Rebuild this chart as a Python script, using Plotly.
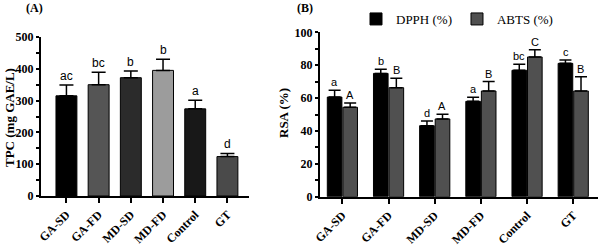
import plotly.graph_objects as go

categories = ["GA-SD", "GA-FD", "MD-SD", "MD-FD", "Control", "GT"]

tpc = [315, 350, 372, 395, 274, 124]
tpc_err = [34, 39, 21, 35, 27, 10]
tpc_letters = ["ac", "bc", "b", "b", "a", "d"]
tpc_colors = ["#000000", "#555555", "#2b2b2b", "#9c9c9c", "#181818", "#4a4a4a"]

dpph = [60.6, 75.0, 43.2, 58.0, 76.9, 81.1]
dpph_err = [4.1, 2.5, 2.8, 2.5, 3.6, 2.1]
dpph_letters = ["a", "b", "d", "a", "bc", "c"]

abts = [54.4, 66.3, 47.3, 64.3, 85.0, 64.3]
abts_err = [2.6, 5.7, 2.8, 5.7, 4.4, 8.7]
abts_letters = ["A", "B", "A", "B", "C", "B"]

SERIF = "Liberation Serif, Times New Roman, serif"
SANS = "Liberation Sans, Arial, sans-serif"

fig = go.Figure()

fig.add_trace(go.Bar(
    x=categories, y=tpc, xaxis="x", yaxis="y", width=0.65,
    marker=dict(color=tpc_colors, line=dict(color="black", width=1)),
    error_y=dict(type="data", symmetric=False, array=tpc_err,
                 arrayminus=[0] * len(tpc), color="black", thickness=1.5, width=7),
    showlegend=False,
))
fig.add_trace(go.Bar(
    x=categories, y=dpph, xaxis="x2", yaxis="y2", name="DPPH (%)",
    marker=dict(color="#000000", line=dict(color="black", width=1)),
    error_y=dict(type="data", symmetric=False, array=dpph_err,
                 arrayminus=[0] * len(dpph), color="black", thickness=1.5, width=6),
))
fig.add_trace(go.Bar(
    x=categories, y=abts, xaxis="x2", yaxis="y2", name="ABTS (%)",
    marker=dict(color="#505050", line=dict(color="black", width=1)),
    error_y=dict(type="data", symmetric=False, array=abts_err,
                 arrayminus=[0] * len(abts), color="black", thickness=1.5, width=6),
))

annotations = []
for c, v, e, t in zip(categories, tpc, tpc_err, tpc_letters):
    annotations.append(dict(x=c, y=v + e, xref="x", yref="y", text=t, showarrow=False,
                            xanchor="center", yanchor="bottom",
                            font=dict(family=SANS, size=12, color="black")))
for c, v, e, t in zip(categories, dpph, dpph_err, dpph_letters):
    annotations.append(dict(x=c, y=v + e, xref="x2", yref="y2", text=t, showarrow=False,
                            xanchor="center", yanchor="bottom", xshift=-7.7,
                            font=dict(family=SANS, size=11, color="black")))
for c, v, e, t in zip(categories, abts, abts_err, abts_letters):
    annotations.append(dict(x=c, y=v + e, xref="x2", yref="y2", text=t, showarrow=False,
                            xanchor="center", yanchor="bottom", xshift=7.7,
                            font=dict(family=SANS, size=11, color="black")))

annotations.append(dict(x=34 / 600, y=1 - 8 / 247, xref="paper", yref="paper", text="<b>(A)</b>",
                        xanchor="center", yanchor="middle", showarrow=False,
                        font=dict(family=SERIF, size=12, color="black")))
annotations.append(dict(x=305 / 600, y=1 - 8 / 247, xref="paper", yref="paper", text="<b>(B)</b>",
                        xanchor="center", yanchor="middle", showarrow=False,
                        font=dict(family=SERIF, size=12, color="black")))
annotations.append(dict(x=9 / 600, y=1 - 118 / 247, xref="paper", yref="paper", text="<b>TPC (mg GAE/L)</b>",
                        xanchor="center", yanchor="middle", textangle=-90, showarrow=False,
                        font=dict(family=SERIF, size=13, color="black")))
annotations.append(dict(x=283 / 600, y=1 - 113 / 247, xref="paper", yref="paper", text="<b>RSA (%)</b>",
                        xanchor="center", yanchor="middle", textangle=-90, showarrow=False,
                        font=dict(family=SERIF, size=13, color="black")))

axis_common = dict(showline=True, linecolor="black", linewidth=2, ticks="outside",
                   tickcolor="black", tickwidth=1.5, showgrid=False, zeroline=False,
                   automargin=False)

fig.update_layout(
    width=600, height=247,
    margin=dict(l=0, r=0, t=0, b=0, autoexpand=False),
    paper_bgcolor="white", plot_bgcolor="white",
    barmode="group", bargap=0.326, bargroupgap=0.06,
    annotations=annotations,
    legend=dict(orientation="h", x=356 / 600, y=1 - 4 / 247, xanchor="left", yanchor="top",
                font=dict(family=SERIF, size=13, color="black"), bgcolor="rgba(0,0,0,0)",
                tracegroupgap=0, itemwidth=30),
    xaxis=dict(domain=[41 / 600, 249 / 600], type="category", range=[-0.79, 5.67],
               anchor="y", tickangle=-45, ticklen=5,
               tickfont=dict(family=SERIF, size=12, color="black", weight="bold"), **axis_common),
    yaxis=dict(domain=[(247 - 196) / 247, (247 - 37) / 247], range=[0, 500], anchor="x",
               tickvals=[0, 100, 200, 300, 400, 500], ticklen=3,
               minor=dict(dtick=50, ticks="outside", ticklen=3, tickcolor="black", tickwidth=1.5),
               tickfont=dict(family=SERIF, size=12, color="black", weight="bold"),
               **axis_common),
    xaxis2=dict(domain=[320 / 600, 597.7 / 600], type="category", range=[-0.485, 5.53],
                anchor="y2", tickangle=-45, ticklen=5,
                tickfont=dict(family=SERIF, size=12, color="black", weight="bold"), **axis_common),
    yaxis2=dict(domain=[(247 - 196.7) / 247, (247 - 32.3) / 247], range=[0, 100], anchor="x2",
                tickvals=[0, 20, 40, 60, 80, 100], ticklen=3,
                minor=dict(dtick=10, ticks="outside", ticklen=3, tickcolor="black", tickwidth=1.5),
                tickfont=dict(family=SERIF, size=12, color="black", weight="bold"),
                **axis_common),
)

fig.write_html("out.html", config={"displayModeBar": False},
               post_script="document.body.style.margin='0';")
